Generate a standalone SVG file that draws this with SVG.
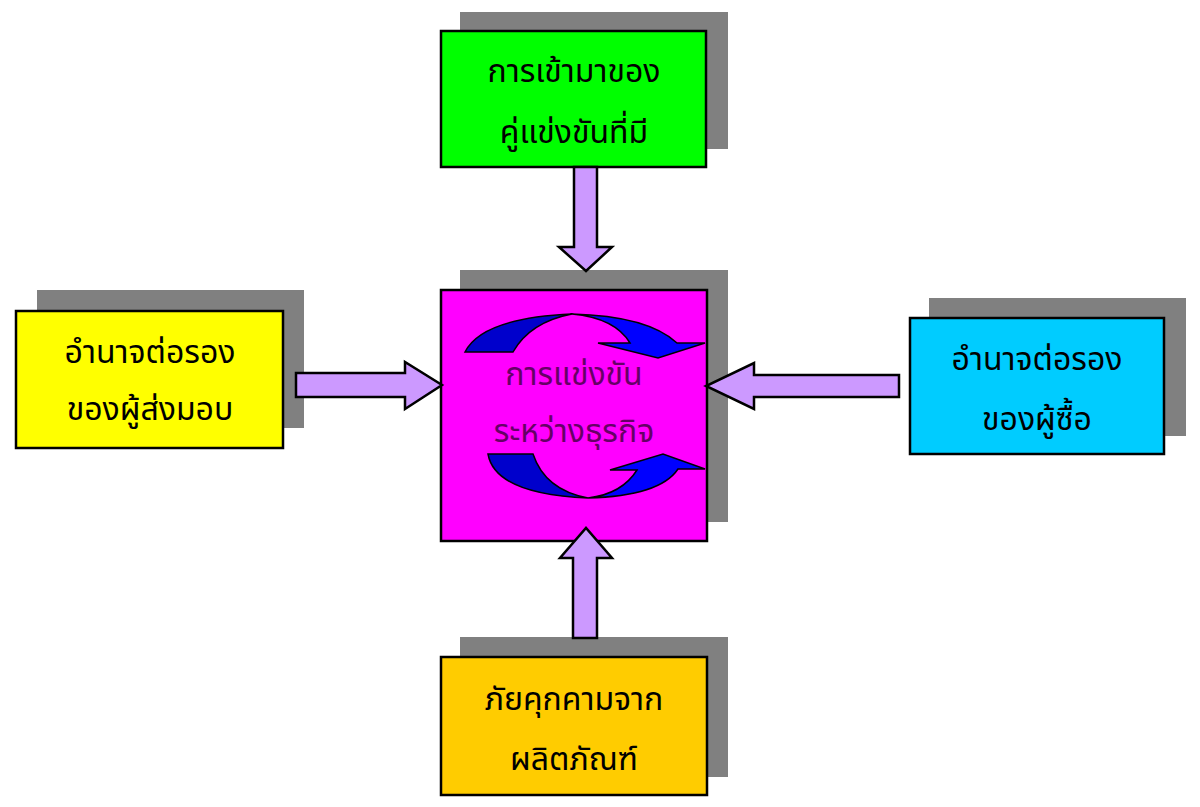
<svg xmlns="http://www.w3.org/2000/svg" width="1200" height="807" viewBox="0 0 1200 807">
<style>
.shadow{fill:#808080;}
.box{stroke:#000;stroke-width:2.5;}
.conn{fill:#CC99FF;stroke:#000;stroke-width:2.5;stroke-linejoin:miter;}
.lbl{font-family:"Noto Sans Thai","Noto Sans","DejaVu Sans",sans-serif;font-size:32px;text-anchor:middle;fill:#000;}
.clbl{fill:#660066;}
.dark{fill:#0000CC;stroke:#000;stroke-width:1.5;stroke-linejoin:miter;}
.bright{fill:#0000FF;stroke:#000;stroke-width:1.5;stroke-linejoin:miter;}
</style>
<rect width="1200" height="807" fill="#fff"/>

<g id="node-top">
<rect class="shadow" x="460" y="12" width="268" height="137"/>
<rect class="box" x="441" y="31" width="265" height="136" fill="#00FF00"/>
<text class="lbl" x="574" y="82">การเข้ามาของ</text>
<text class="lbl" x="574" y="143">คู่แข่งขันที่มี</text>
</g>

<g id="node-left">
<rect class="shadow" x="37" y="290" width="267" height="138"/>
<rect class="box" x="16" y="311" width="267" height="137" fill="#FFFF00"/>
<text class="lbl" x="150" y="363">อำนาจต่อรอง</text>
<text class="lbl" x="150" y="420">ของผู้ส่งมอบ</text>
</g>

<g id="node-right">
<rect class="shadow" x="929" y="298" width="257" height="138"/>
<rect class="box" x="910" y="318" width="254" height="136" fill="#00CCFF"/>
<text class="lbl" x="1037" y="370">อำนาจต่อรอง</text>
<text class="lbl" x="1037" y="430">ของผู้ซื้อ</text>
</g>

<g id="node-bottom">
<rect class="shadow" x="460" y="637" width="268" height="140"/>
<rect class="box" x="441" y="657" width="266" height="138" fill="#FFCC00"/>
<text class="lbl" x="574" y="710">ภัยคุกคามจาก</text>
<text class="lbl" x="574" y="770">ผลิตภัณฑ์</text>
</g>

<g id="node-center">
<rect class="shadow" x="460" y="270" width="268" height="252"/>
<rect class="box" x="441" y="290" width="266" height="251" fill="#FF00FF"/>
<path class="dark" d="M465,352 Q482,318 572,314 Q530,322 513,352 Z"/>
<path class="bright" d="M572,314 Q648,316 677,343 L705,343 L658,358 L598,343 L630,343 Q615,318 572,314 Z"/>
<path class="dark" d="M488,454 Q495,494 588,498 Q545,490 533,454 Z"/>
<path class="bright" d="M588,498 Q660,496 678,469 L705,469 L663,454 L610,470 L637,470 Q622,494 588,498 Z"/>
<text class="lbl clbl" x="574" y="385">การแข่งขัน</text>
<text class="lbl clbl" x="574" y="442">ระหว่างธุรกิจ</text>
</g>

<g id="connectors">
<polygon class="conn" points="574,167 597,167 597,247 612,247 586,271 559,247 574,247"/>
<polygon class="conn" points="296,373 405,373 405,362 442,385 405,409 405,397 296,397"/>
<polygon class="conn" points="899,375 754,375 754,363 706,386 754,409 754,397 899,397"/>
<polygon class="conn" points="573,638 573,558 560,558 586,528 612,558 597,558 597,638"/>
</g>
</svg>
